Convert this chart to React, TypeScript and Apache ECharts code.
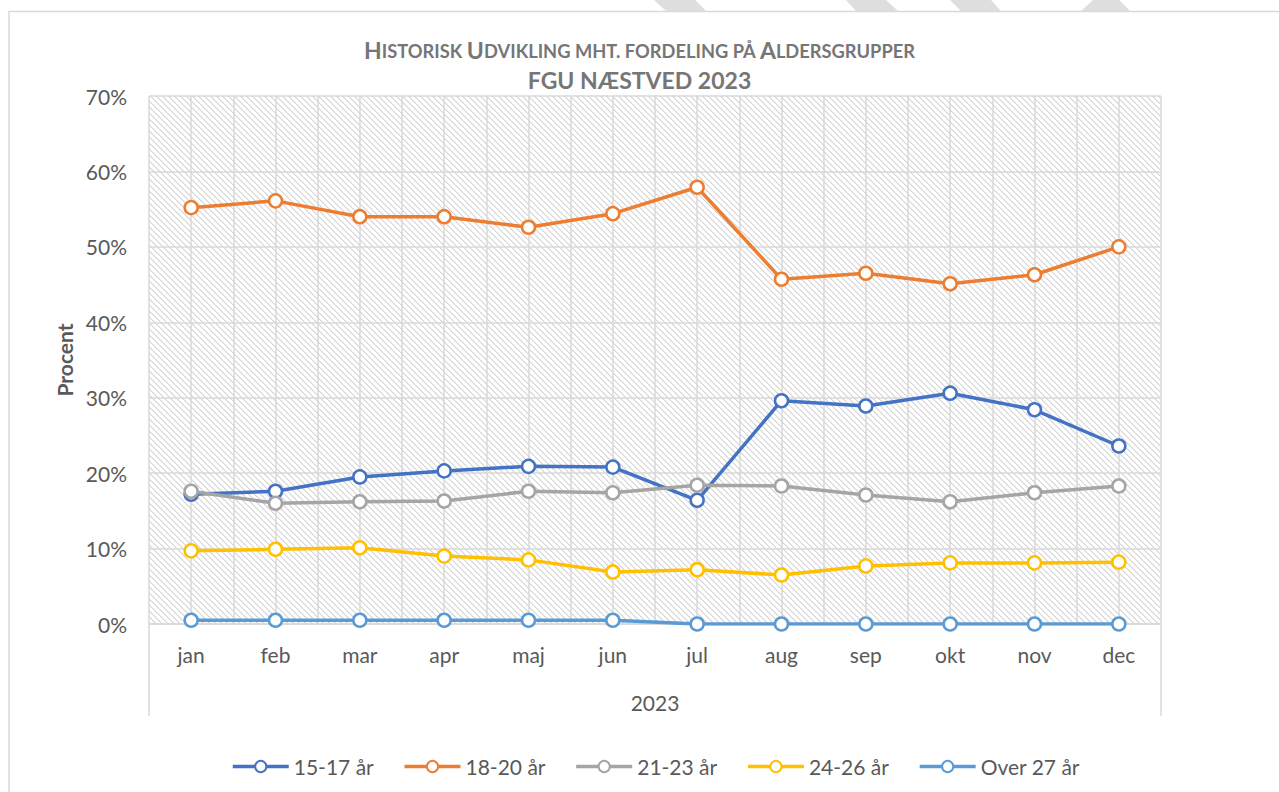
import React, { useEffect, useRef } from "react";
import * as echarts from "echarts";

const months = ["jan", "feb", "mar", "apr", "maj", "jun", "jul", "aug", "sep", "okt", "nov", "dec"];
const seriesNames = ["15-17 år", "18-20 år", "21-23 år", "24-26 år", "Over 27 år"];
const colors = ["#4472C4", "#ED7D31", "#A5A5A5", "#FFC000", "#5B9BD5"];
const age15_17 = [17.2, 17.6, 19.5, 20.3, 20.9, 20.8, 16.4, 29.6, 28.9, 30.6, 28.4, 23.6];
const age18_20 = [55.2, 56.1, 54.0, 54.0, 52.6, 54.4, 57.9, 45.7, 46.5, 45.1, 46.3, 50.0];
const age21_23 = [17.6, 16.0, 16.2, 16.3, 17.6, 17.4, 18.4, 18.3, 17.1, 16.2, 17.4, 18.3];
const age24_26 = [9.7, 9.9, 10.1, 9.0, 8.5, 6.9, 7.2, 6.5, 7.7, 8.1, 8.1, 8.2];
const over27 = [0.5, 0.5, 0.5, 0.5, 0.5, 0.5, 0, 0, 0, 0, 0, 0];
const allData = [age15_17, age18_20, age21_23, age24_26, over27];
const yTicks = { min: 0, max: 70, interval: 10 };
const xAxisTitle = "2023";
const yAxisTitle = "Procent";

const FONT = "Lato";
const TEXT = "#595959";
const GRID = "#d9d9d9";

function makeHatch() {
  const size = 6;
  const c = document.createElement("canvas");
  c.width = size;
  c.height = size;
  const ctx = c.getContext("2d")!;
  ctx.fillStyle = "#ffffff";
  ctx.fillRect(0, 0, size, size);
  for (let y = 0; y < size; y++) {
    for (let x = 0; x < size; x++) {
      const d = ((x - y) % size + size) % size;
      if (d === 0) {
        ctx.fillStyle = "#d4d4d4";
        ctx.fillRect(x, y, 1, 1);
      } else if (d === 1) {
        ctx.fillStyle = "#eaeaea";
        ctx.fillRect(x, y, 1, 1);
      }
    }
  }
  return { image: c.toDataURL(), repeat: "repeat", imageWidth: size, imageHeight: size };
}

export default function App() {
  const ref = useRef<HTMLDivElement>(null);
  useEffect(() => {
    document.body.style.margin = "0";
    const chart = echarts.init(ref.current!, null, { renderer: "svg" });
    const hatch = makeHatch();
    const option: any = {
      animation: false,
      backgroundColor: "#ffffff",
      color: colors,
      title: [
        {
          left: "center",
          top: 30,
          text: "{b|H}{s|ISTORISK }{b|U}{s|DVIKLING MHT. FORDELING PÅ }{b|A}{s|LDERSGRUPPER}",
          textStyle: {
            rich: {
              b: { fontFamily: FONT, fontWeight: "bold", fontSize: 23, color: "#767676", verticalAlign: "bottom", lineHeight: 26 },
              s: { fontFamily: FONT, fontWeight: "bold", fontSize: 18.3, color: "#767676", verticalAlign: "bottom", lineHeight: 26, padding: [0, 0, 1, 0] },
            },
          },
        },
        {
          left: "center",
          top: 63,
          text: "FGU NÆSTVED 2023",
          textStyle: { fontFamily: FONT, fontWeight: "bold", fontSize: 23, color: "#767676" },
        },
      ],
      grid: {
        left: 149,
        right: 118,
        top: 96,
        bottom: 168,
        show: true,
        backgroundColor: hatch,
        borderWidth: 0,
      },
      legend: {
        left: 226,
        top: 751,
        itemWidth: 56,
        itemHeight: 14,
        itemGap: 29,
        lineStyle: { width: 3.5 },
        textStyle: { fontFamily: FONT, fontSize: 21, color: TEXT },
        data: seriesNames,
      },
      xAxis: [
        {
          type: "category",
          data: months,
          boundaryGap: true,
          axisLine: { show: true, lineStyle: { color: GRID, width: 1.5 } },
          axisTick: { show: false },
          splitLine: { show: false },
          axisLabel: { fontFamily: FONT, fontSize: 21, color: TEXT, margin: 20 },
          name: xAxisTitle,
          nameLocation: "middle",
          nameGap: 68,
          nameTextStyle: { fontFamily: FONT, fontSize: 21, color: TEXT },
        },
        {
          type: "value",
          position: "bottom",
          min: 0,
          max: 24,
          interval: 1,
          axisLine: { show: false },
          axisTick: { show: false },
          axisLabel: { show: false },
          splitLine: { show: true, lineStyle: { color: GRID, width: 1.5 } },
        },
      ],
      yAxis: {
        type: "value",
        min: yTicks.min,
        max: yTicks.max,
        interval: yTicks.interval,
        axisLine: { show: false },
        axisTick: { show: false },
        splitLine: { show: true, lineStyle: { color: GRID, width: 1.5 } },
        axisLabel: { formatter: "{value}%", fontFamily: FONT, fontSize: 21, color: TEXT, margin: 22 },
        name: yAxisTitle,
        nameLocation: "middle",
        nameGap: 74,
        nameTextStyle: { fontFamily: FONT, fontSize: 21, fontWeight: "bold", color: TEXT },
      },
      series: seriesNames.map((name, i) => ({
        name,
        type: "line",
        xAxisIndex: 0,
        data: allData[i],
        symbol: "circle",
        symbolSize: 13,
        showAllSymbol: true,
        lineStyle: { color: colors[i], width: 3.5 },
        itemStyle: { color: "#ffffff", borderColor: colors[i], borderWidth: 2.5 },
        emphasis: { disabled: true },
        z: 3 + i,
      })),
      graphic: [
        {
          type: "rect",
          shape: { x: 9, y: 11.5, width: 1400, height: 900 },
          style: { fill: "none", stroke: GRID, lineWidth: 1.5 },
          silent: true,
          z: -1,
        },
        { type: "line", shape: { x1: 149, y1: 624, x2: 149, y2: 716 }, style: { stroke: GRID, lineWidth: 1.5 } },
        { type: "line", shape: { x1: 1161, y1: 624, x2: 1161, y2: 716 }, style: { stroke: GRID, lineWidth: 1.5 } },
        { type: "polygon", shape: { points: [[654, 0], [695, 0], [706, 11], [666, 11]] }, style: { fill: "#dedede" } },
        { type: "polygon", shape: { points: [[846, 0], [886, 0], [898, 11], [856, 11]] }, style: { fill: "#dedede" } },
        { type: "polygon", shape: { points: [[950, 0], [991, 0], [1001, 11], [961, 11]] }, style: { fill: "#dedede" } },
        { type: "polygon", shape: { points: [[1093, 0], [1119, 0], [1130, 11], [1081, 11]] }, style: { fill: "#dedede" } },
      ],
    };
    chart.setOption(option);
    return () => chart.dispose();
  }, []);
  return <div ref={ref} style={{ width: 1279, height: 792 }} />;
}
